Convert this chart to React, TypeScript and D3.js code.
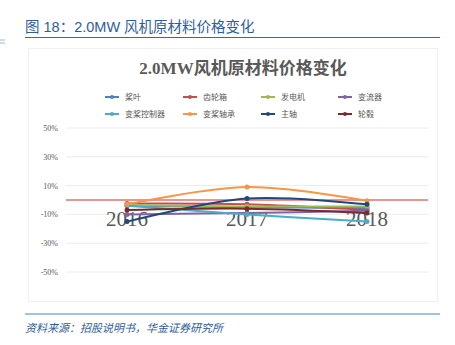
import React from "react";
import * as d3 from "d3";

const years = ["2016", "2017", "2018"];
const seriesNames = ["桨叶", "齿轮箱", "发电机", "变流器", "变桨控制器", "变桨轴承", "主轴", "轮毂"];
const seriesColors = ["#4F81BD", "#C0504D", "#9BBB59", "#8064A2", "#4BACC6", "#F79646", "#1F497D", "#772C2A"];
const blade = [-4, -5, -5.5];
const gearbox = [-2.5, -3, -7];
const generator = [-3.5, -4.5, -4.5];
const inverter = [-10, -9, -7.5];
const pitchController = [-4, -10, -15];
const pitchBearing = [-3, 9, -0.5];
const mainShaft = [-15, 1, -3];
const hub = [-7, -6, -9];
const seriesValues = [blade, gearbox, generator, inverter, pitchController, pitchBearing, mainShaft, hub];
const yTicks = [50, 30, 10, -10, -30, -50];

const W = 455, H = 345;
const x = d3.scalePoint<string>().domain(years).range([67, 427]).padding(0.5);
const y = d3.scaleLinear().domain([-50, 50]).range([272, 128]);

const CJK = "'Liberation Sans', 'Noto Sans CJK SC', sans-serif";
const SERIF = "'Liberation Serif', 'DejaVu Serif', 'Noto Sans CJK SC', serif";

export default function App() {
  const line = d3
    .line<number>()
    .x((_, i) => x(years[i]) as number)
    .y((d) => y(d))
    .curve(d3.curveCatmullRom.alpha(0.5));
  const legendX = [105, 183, 261, 338];
  const legendY = [97, 114];
  return (
    <svg width={W} height={H} style={{ position: "absolute", left: 0, top: 0, background: "#fff" }}>
      <text x={25} y={32} fontFamily={CJK} fontSize={14.5} fill="#2F5D9A">
        图 18：2.0MW 风机原材料价格变化
      </text>
      <line x1={25} x2={440} y1={37.5} y2={37.5} stroke="#2E6DA4" strokeWidth={1} />
      <line x1={0} x2={5} y1={40} y2={40} stroke="#9DB8D8" strokeWidth={1} />
      <line x1={0} x2={5} y1={43} y2={43} stroke="#9DB8D8" strokeWidth={1} />
      <rect x={28.5} y={48.5} width={409} height={253} fill="#fff" stroke="#f0f0f0" />
      <text x={243} y={74} textAnchor="middle" fontFamily={SERIF} fontWeight="bold" fontSize={17} fill="#595959">
        2.0MW风机原材料价格变化
      </text>
      {seriesNames.map((n, i) => {
        const lx = legendX[i % 4];
        const ly = legendY[Math.floor(i / 4)];
        return (
          <g key={n}>
            <line x1={lx} x2={lx + 14} y1={ly} y2={ly} stroke={seriesColors[i]} strokeWidth={2} />
            <circle cx={lx + 7} cy={ly} r={2} fill={seriesColors[i]} />
            <text x={lx + 20} y={ly + 3} fontFamily={SERIF} fontSize={8} fill="#595959">
              {n}
            </text>
          </g>
        );
      })}
      {yTicks.map((t) => (
        <g key={t}>
          <line x1={66} x2={428} y1={y(t)} y2={y(t)} stroke="#ececec" strokeWidth={1} />
          <text x={58} y={y(t) + 3} textAnchor="end" fontFamily={SERIF} fontSize={8} fill="#595959">
            {t}%
          </text>
        </g>
      ))}
      <line x1={66} x2={428} y1={y(0)} y2={y(0)} stroke="#E07070" strokeWidth={1.5} />
      {years.map((yr) => (
        <text key={yr} x={x(yr)} y={226} textAnchor="middle" fontFamily={SERIF} fontSize={21} fill="#595959">
          {yr}
        </text>
      ))}
      {seriesValues.map((vals, i) => (
        <g key={seriesNames[i]}>
          <path d={line(vals) || ""} fill="none" stroke={seriesColors[i]} strokeWidth={2} />
          {vals.map((v, j) => (
            <circle key={j} cx={x(years[j])} cy={y(v)} r={2.5} fill={seriesColors[i]} />
          ))}
        </g>
      ))}
      <line x1={25} x2={440} y1={314} y2={314} stroke="#7FAEDB" strokeWidth={1.5} />
      <text x={25} y={332} fontFamily={CJK} fontSize={11} fontStyle="italic" fill="#2F5D9A">
        资料来源：招股说明书，华金证券研究所
      </text>
    </svg>
  );
}
